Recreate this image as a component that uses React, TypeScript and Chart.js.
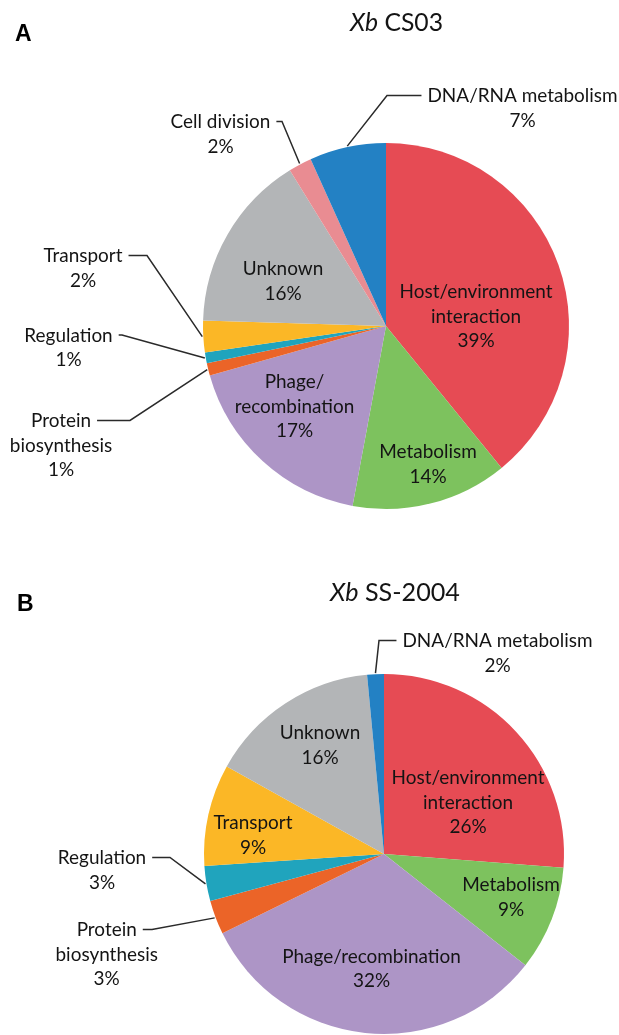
import React, { useEffect, useRef } from "react";
import { Chart, registerables } from "chart.js";

Chart.register(...registerables);

// ---------- DATA ----------
const categoriesA = [
  "Host/environment interaction",
  "Metabolism",
  "Phage/recombination",
  "Protein biosynthesis",
  "Regulation",
  "Transport",
  "Unknown",
  "Cell division",
  "DNA/RNA metabolism",
];
const valuesA = [39.1, 13.8, 17.7, 1.1, 0.95, 2.8, 15.7, 2.05, 6.75];
const pctLabelsA = ["39%", "14%", "17%", "1%", "1%", "2%", "16%", "2%", "7%"];

const categoriesB = [
  "Host/environment interaction",
  "Metabolism",
  "Phage/recombination",
  "Protein biosynthesis",
  "Regulation",
  "Transport",
  "Unknown",
  "DNA/RNA metabolism",
];
const valuesB = [26.2, 9.4, 32.1, 3.05, 3.15, 9.15, 15.4, 1.5];
const pctLabelsB = ["26%", "9%", "32%", "3%", "3%", "9%", "16%", "2%"];

// ---------- STYLE ----------
const COLOR_BY_CATEGORY: Record<string, string> = {
  "Host/environment interaction": "#E64B54",
  Metabolism: "#7DC25E",
  "Phage/recombination": "#AD95C6",
  "Protein biosynthesis": "#EB6428",
  Regulation: "#20A4BD",
  Transport: "#FBB726",
  Unknown: "#B3B5B7",
  "Cell division": "#E98C92",
  "DNA/RNA metabolism": "#2381C4",
};

const FONT = "Lato, 'Noto Sans', sans-serif";
const TEXT = "#141414";
const LINE_H = 24.5;

type LabelCfg = { wrap: string[]; dx: number; dy: number; elbow?: number };

// label placement relative to pie centre (px), line wrapping
const labelsA: LabelCfg[] = [
  { wrap: ["Host/environment", "interaction"], dx: 90, dy: -28 },
  { wrap: ["Metabolism"], dx: 42, dy: 132 },
  { wrap: ["Phage/", "recombination"], dx: -91.5, dy: 62 },
  { wrap: ["Protein", "biosynthesis"], dx: -325, dy: 101, elbow: -256 },
  { wrap: ["Regulation"], dx: -317.5, dy: 15.5, elbow: -264 },
  { wrap: ["Transport"], dx: -303, dy: -64, elbow: -239 },
  { wrap: ["Unknown"], dx: -103, dy: -51 },
  { wrap: ["Cell division"], dx: -165.5, dy: -198, elbow: -104 },
  { wrap: ["DNA/RNA metabolism"], dx: 136.5, dy: -224, elbow: 1 },
];

const labelsB: LabelCfg[] = [
  { wrap: ["Host/environment", "interaction"], dx: 84, dy: -70 },
  { wrap: ["Metabolism"], dx: 127, dy: 37 },
  { wrap: ["Phage/recombination"], dx: -12.5, dy: 108.7 },
  { wrap: ["Protein", "biosynthesis"], dx: -277.3, dy: 82, elbow: -232 },
  { wrap: ["Regulation"], dx: -282, dy: 10, elbow: -214 },
  { wrap: ["Transport"], dx: -131, dy: -24.7 },
  { wrap: ["Unknown"], dx: -64, dy: -114.7 },
  { wrap: ["DNA/RNA metabolism"], dx: 113.5, dy: -207, elbow: -5 },
];

type PanelCfg = {
  letter: string;
  letterX: number;
  letterY: number;
  titleItalic: string;
  titleRest: string;
  titleCx: number;
  titleY: number;
  titleWidth: number;
  labels: LabelCfg[];
  pcts: string[];
};

function fitSize(ctx: CanvasRenderingContext2D, text: string, target: number, style = "") {
  ctx.font = `${style} 100px ${FONT}`;
  const w = ctx.measureText(text).width;
  return (100 * target) / w;
}

function makePlugin(cfg: PanelCfg) {
  return {
    id: "panelDecor",
    afterDraw(chart: any) {
      const ctx: CanvasRenderingContext2D = chart.ctx;
      const arcs = chart.getDatasetMeta(0).data;
      ctx.save();
      const bodySize = fitSize(ctx, "Host/environment", 153);
      ctx.font = `${bodySize}px ${FONT}`;
      ctx.fillStyle = TEXT;
      ctx.strokeStyle = "#2a2a2a";
      ctx.lineWidth = 1.5;
      ctx.textAlign = "center";
      ctx.textBaseline = "alphabetic";

      arcs.forEach((arc: any, i: number) => {
        const p = arc.getProps(["x", "y", "startAngle", "endAngle", "outerRadius"], true);
        const L = cfg.labels[i];
        const lines = [...L.wrap, cfg.pcts[i]];
        const tx = p.x + L.dx;
        const ty = p.y + L.dy;
        lines.forEach((s, k) => ctx.fillText(s, tx, ty + k * LINE_H));
        if (L.elbow !== undefined) {
          const mid = (p.startAngle + p.endAngle) / 2;
          const px = p.x + Math.cos(mid) * (p.outerRadius + 1);
          const py = p.y + Math.sin(mid) * (p.outerRadius + 1);
          const w = ctx.measureText(lines[0]).width;
          const ly = ty - 6.5;
          const ex = p.x + L.elbow;
          const sx = ex < tx ? tx - w / 2 - 6 : tx + w / 2 + 6;
          ctx.beginPath();
          ctx.moveTo(sx, ly);
          ctx.lineTo(ex, ly);
          ctx.lineTo(px, py);
          ctx.stroke();
        }
      });

      // panel letter
      ctx.textAlign = "left";
      ctx.fillStyle = "#000";
      ctx.font = `bold 23px 'Liberation Sans', Arial, sans-serif`;
      ctx.fillText(cfg.letter, cfg.letterX, cfg.letterY);

      // title (italic species + strain)
      ctx.font = `100px ${FONT}`;
      const wRest = ctx.measureText(" " + cfg.titleRest).width;
      ctx.font = `italic 100px ${FONT}`;
      const wIt = ctx.measureText(cfg.titleItalic).width;
      const tSize = (100 * cfg.titleWidth) / (wRest + wIt);
      const left = cfg.titleCx - cfg.titleWidth / 2;
      ctx.fillStyle = TEXT;
      ctx.font = `italic ${tSize}px ${FONT}`;
      ctx.fillText(cfg.titleItalic, left, cfg.titleY);
      const w1 = ctx.measureText(cfg.titleItalic).width;
      ctx.font = `${tSize}px ${FONT}`;
      ctx.fillText(" " + cfg.titleRest, left + w1, cfg.titleY);
      ctx.restore();
    },
  };
}

function PiePanel(props: {
  categories: string[];
  values: number[];
  width: number;
  height: number;
  top: number;
  padding: { top: number; left: number; right: number; bottom: number };
  cfg: PanelCfg;
}) {
  const ref = useRef<HTMLCanvasElement>(null);
  useEffect(() => {
    if (!ref.current) return;
    const chart = new Chart(ref.current, {
      type: "pie",
      data: {
        labels: props.categories,
        datasets: [
          {
            data: props.values,
            backgroundColor: props.categories.map((c) => COLOR_BY_CATEGORY[c]),
            borderWidth: 0,
            hoverOffset: 0,
            offset: 0,
          },
        ],
      },
      options: {
        responsive: false,
        animation: false,
        devicePixelRatio: 1,
        events: [],
        layout: { padding: props.padding },
        plugins: { legend: { display: false }, tooltip: { enabled: false }, title: { display: false } },
      },
      plugins: [makePlugin(props.cfg)],
    });
    return () => chart.destroy();
  }, []);
  return (
    <canvas
      ref={ref}
      width={props.width}
      height={props.height}
      style={{ position: "absolute", left: 0, top: props.top, width: props.width, height: props.height }}
    />
  );
}

export default function App() {
  return (
    <div style={{ position: "absolute", left: 0, top: 0, width: 619, height: 1035, background: "#fff", overflow: "hidden" }}>
      <PiePanel
        categories={categoriesA}
        values={valuesA}
        width={619}
        height={527}
        top={0}
        padding={{ top: 143, left: 203, right: 50, bottom: 18 }}
        cfg={{
          letter: "A",
          letterX: 15,
          letterY: 41,
          titleItalic: "Xb",
          titleRest: "CS03",
          titleCx: 396.5,
          titleY: 31,
          titleWidth: 93,
          labels: labelsA,
          pcts: pctLabelsA,
        }}
      />
      <PiePanel
        categories={categoriesB}
        values={valuesB}
        width={619}
        height={508}
        top={527}
        padding={{ top: 147, left: 204, right: 55, bottom: 1 }}
        cfg={{
          letter: "B",
          letterX: 17,
          letterY: 84,
          titleItalic: "Xb",
          titleRest: "SS-2004",
          titleCx: 395,
          titleY: 74,
          titleWidth: 130,
          labels: labelsB,
          pcts: pctLabelsB,
        }}
      />
    </div>
  );
}
